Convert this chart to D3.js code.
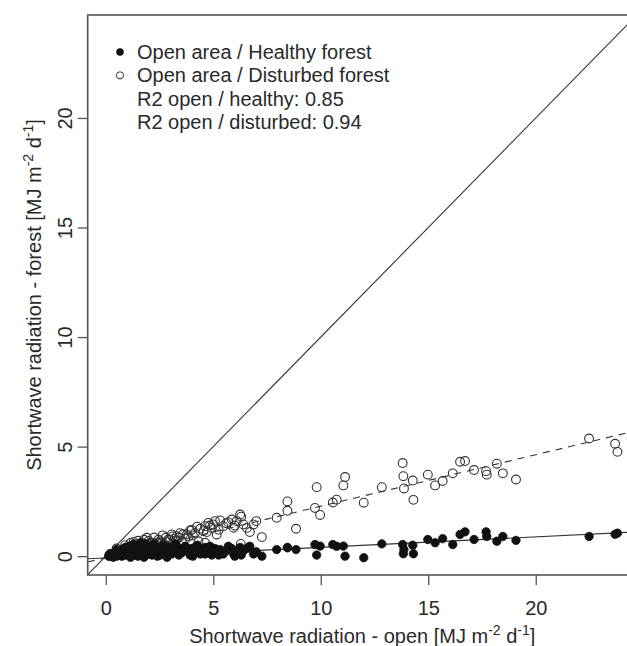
<!DOCTYPE html>
<html>
<head>
<meta charset="utf-8">
<script src="https://cdn.jsdelivr.net/npm/d3@7"></script>
<style>
  html, body { margin: 0; padding: 0; background: #fff; }
  svg { display: block; font-family: "Liberation Sans", Arial, Helvetica, sans-serif; }
</style>
</head>
<body>
<svg id="chart" width="627" height="646"></svg>
<script>
// Daily shortwave radiation [MJ m-2 d-1]: open site vs. two forest stands
const openArea = [
  0.15, 0.25, 0.35, 0.45, 0.51, 0.6, 0.7, 0.8, 0.9, 1.0,
  1.16, 1.25, 1.35, 1.52, 1.6, 1.75, 1.91, 2.06, 2.2, 2.37,
  2.53, 2.7, 2.91, 2.91, 3.07, 3.2, 3.3, 3.53, 3.77, 3.92,
  4.15, 4.31, 4.54, 4.62, 4.62, 4.77, 4.93, 5.08, 5.16, 5.32,
  5.47, 5.86, 6.09, 6.25, 6.3, 6.4, 6.56, 6.28, 6.87, 7.26,
  7.95, 8.45, 8.45, 8.85, 9.73, 9.81, 9.97, 10.56, 10.74, 11.05,
  11.13, 12.0, 12.84, 13.81, 13.84, 13.87, 14.28, 14.31, 14.98, 15.32,
  15.67, 16.14, 16.48, 16.71, 17.13, 17.69, 17.72, 18.19, 18.47, 19.08,
  22.48, 23.69, 23.8,
  0.2, 0.3, 0.4, 0.55, 0.65, 0.75, 0.85, 0.95, 1.05, 1.1,
  1.2, 1.3, 1.4, 1.45, 1.55, 1.65, 1.7, 1.8, 1.85, 1.95,
  2.0, 2.1, 2.15, 2.3, 2.45, 2.6, 2.8, 3.0, 3.1, 3.4,
  3.6, 3.85, 4.0, 4.4, 4.7, 5.0, 5.6, 5.95,
  0.5, 0.9, 1.15, 1.3, 1.5, 1.62, 1.78, 2.25, 2.4, 2.65,
  2.85, 3.25, 3.45, 3.7, 4.05, 4.25, 4.85, 5.25, 5.7, 6.0,
  6.7, 7.0
];
const healthyForest = [
  0.0, 0.05, -0.05, 0.1, 0.0, 0.15, 0.05, 0.2, 0.1, 0.3,
  0.15, 0.4, 0.05, 0.45, 0.2, 0.5, 0.3, 0.1, 0.45, 0.25,
  0.05, 0.35, 0.2, 0.4, 0.1, 0.3, 0.45, 0.15, 0.3, 0.05,
  0.4, 0.2, 0.3, 0.1, 0.4, 0.25, 0.05, 0.35, 0.2, 0.3,
  0.1, 0.35, 0.2, 0.4, 0.05, 0.25, 0.35, 0.15, 0.1, 0.0,
  0.3, 0.38, 0.4, 0.3, 0.53, 0.05, 0.46, 0.53, 0.45, 0.46,
  0.0, -0.07, 0.56, 0.53, 0.11, 0.3, 0.5, 0.11, 0.76, 0.61,
  0.8, 0.53, 0.99, 1.11, 0.76, 1.11, 0.9, 0.68, 0.9, 0.72,
  0.9, 1.0, 1.05,
  0.1, 0.0, 0.15, 0.05, 0.25, 0.0, 0.15, 0.05, 0.2, 0.45,
  0.1, 0.25, 0.5, 0.15, 0.3, 0.1, 0.4, 0.2, 0.55, 0.1,
  0.4, 0.25, 0.05, 0.35, 0.15, 0.3, 0.1, 0.35, 0.2, 0.05,
  0.35, 0.2, 0.35, 0.1, 0.3, 0.15, 0.25, 0.1,
  0.3, 0.4, -0.05, 0.55, 0.0, 0.6, -0.05, 0.55, 0.0, 0.5,
  -0.05, 0.55, 0.25, 0.45, 0.0, 0.5, 0.45, 0.05, 0.45, 0.0,
  0.45, 0.2
];
const disturbedForest = [
  0.02, 0.08, 0.05, 0.12, 0.15, 0.2, 0.12, 0.25, 0.3, 0.22,
  0.23, 0.4, 0.3, 0.3, 0.5, 0.42, 0.84, 0.61, 0.5, 0.38,
  0.68, 0.55, 0.76, 0.46, 0.99, 0.8, 0.91, 0.68, 0.99, 1.17,
  1.06, 0.68, 1.14, 1.37, 0.61, 1.52, 1.29, 1.6, 0.99, 1.63,
  1.37, 1.67, 1.6, 1.9, 1.8, 1.45, 1.29, 0.56, 1.45, 0.87,
  1.75, 2.5, 2.07, 1.25, 2.2, 3.15, 1.88, 2.45, 2.58, 3.23,
  3.61, 2.44, 3.15, 4.25, 3.65, 3.09, 3.45, 2.57, 3.72, 3.23,
  3.43, 3.78, 4.31, 4.34, 3.93, 3.88, 3.72, 4.22, 3.78, 3.5,
  5.37, 5.13, 4.76,
  0.1, 0.05, 0.1, 0.2, 0.15, 0.3, 0.2, 0.35, 0.3, 0.25,
  0.45, 0.35, 0.4, 0.55, 0.45, 0.35, 0.6, 0.5, 0.45, 0.55,
  0.7, 0.45, 0.6, 0.55, 0.75, 0.6, 0.85, 0.75, 0.9, 0.85,
  1.0, 0.9, 1.2, 1.25, 1.1, 1.45, 1.5, 1.3,
  0.35, 0.5, 0.6, 0.65, 0.7, 0.55, 0.75, 0.85, 0.6, 0.95,
  0.65, 0.7, 1.05, 0.8, 0.95, 1.35, 1.4, 1.2, 1.55, 1.4,
  1.1, 1.6
];

// Least-squares fits shown in the panel (intercept, slope)
const fitHealthy = [-0.08, 0.048];
const fitDisturbed = [-0.07, 0.235];

const xTicks = [0, 5, 10, 15, 20];
const yTicks = [0, 5, 10, 15, 20];

const legendRows = [
  { label: "Open area / Healthy forest", symbol: "filled" },
  { label: "Open area / Disturbed forest", symbol: "open" },
  { label: "R2 open / healthy: 0.85", symbol: null },
  { label: "R2 open / disturbed: 0.94", symbol: null }
];

const svg = d3.select("#chart");
const ink = "#2a2a2a";
const frame = "#555";
const fontSize = 20;

const x = d3.scaleLinear().domain([-0.84, 24.7]).range([87.7, 636.8]);
const y = d3.scaleLinear().domain([-0.86, 24.7]).range([575, 15]);

const [x0, x1] = x.range();
const [y0, y1] = y.range();

svg.append("defs").append("clipPath").attr("id", "plotClip")
  .append("rect").attr("x", x0).attr("y", y1).attr("width", x1 - x0).attr("height", y0 - y1);

const plot = svg.append("g").attr("clip-path", "url(#plotClip)");

// 1:1 reference line
const dom = x.domain();
plot.append("line")
  .attr("x1", x(dom[0])).attr("y1", y(dom[0]))
  .attr("x2", x(dom[1])).attr("y2", y(dom[1]))
  .attr("stroke", "#333").attr("stroke-width", 1.1);

// Regression lines
function fitLine(fit, dash) {
  plot.append("line")
    .attr("x1", x(dom[0])).attr("y1", y(fit[0] + fit[1] * dom[0]))
    .attr("x2", x(dom[1])).attr("y2", y(fit[0] + fit[1] * dom[1]))
    .attr("stroke", "#333").attr("stroke-width", 1.1)
    .attr("stroke-dasharray", dash);
}
fitLine(fitHealthy, null);
fitLine(fitDisturbed, "7,6");

const healthyPts = openArea.map((v, i) => [v, healthyForest[i]]);
const disturbedPts = openArea.map((v, i) => [v, disturbedForest[i]]);

plot.append("g").selectAll("circle").data(disturbedPts).join("circle")
  .attr("cx", d => x(d[0])).attr("cy", d => y(d[1])).attr("r", 4.4)
  .attr("fill", "none").attr("stroke", "#333").attr("stroke-width", 1.1);

plot.append("g").selectAll("circle").data(healthyPts).join("circle")
  .attr("cx", d => x(d[0])).attr("cy", d => y(d[1])).attr("r", 4.2)
  .attr("fill", "#111").attr("stroke", "#111").attr("stroke-width", 0.8);

// Plot frame
svg.append("rect")
  .attr("x", x0).attr("y", y1).attr("width", x1 - x0).attr("height", y0 - y1)
  .attr("fill", "none").attr("stroke", frame).attr("stroke-width", 1.6);

// Axes
const xAxis = svg.append("g").attr("transform", `translate(0,${y0})`)
  .call(d3.axisBottom(x).tickValues(xTicks).tickSize(10).tickFormat(d3.format("d")));
xAxis.select(".domain").remove();
xAxis.selectAll(".tick line").attr("stroke", frame).attr("stroke-width", 1.3);
xAxis.selectAll(".tick text")
  .attr("y", 33).attr("dy", "0.35em")
  .attr("font-size", fontSize).attr("fill", ink)
  .attr("font-family", "Liberation Sans, Arial, sans-serif");

const yAxis = svg.append("g").attr("transform", `translate(${x0},0)`)
  .call(d3.axisLeft(y).tickValues(yTicks).tickSize(10).tickFormat(d3.format("d")));
yAxis.select(".domain").remove();
yAxis.selectAll(".tick line").attr("stroke", frame).attr("stroke-width", 1.3);
yAxis.selectAll(".tick text")
  .attr("x", 0).attr("y", 0).attr("dy", "0.35em")
  .attr("text-anchor", "middle")
  .attr("transform", "translate(-23,0) rotate(-90)")
  .attr("font-size", fontSize).attr("fill", ink)
  .attr("font-family", "Liberation Sans, Arial, sans-serif");

// Axis titles with superscript units
function unitTitle(sel, prefix) {
  sel.append("tspan").text(prefix + " [MJ m");
  sel.append("tspan").attr("baseline-shift", "super").attr("font-size", fontSize * 0.7).text("-2");
  sel.append("tspan").text(" d");
  sel.append("tspan").attr("baseline-shift", "super").attr("font-size", fontSize * 0.7).text("-1");
  sel.append("tspan").text("]");
}

const xTitle = svg.append("text")
  .attr("x", (x0 + x1) / 2).attr("y", 643)
  .attr("text-anchor", "middle").attr("font-size", fontSize).attr("fill", ink);
unitTitle(xTitle, "Shortwave radiation - open");

const yTitle = svg.append("text")
  .attr("transform", `translate(41,${(y0 + y1) / 2}) rotate(-90)`)
  .attr("text-anchor", "middle").attr("font-size", fontSize).attr("fill", ink);
unitTitle(yTitle, "Shortwave radiation - forest");

// Legend
const legend = svg.append("g").attr("transform", "translate(120,52)");
const rowGap = 23.4;
legendRows.forEach((row, i) => {
  const g = legend.append("g").attr("transform", `translate(0,${i * rowGap})`);
  if (row.symbol === "filled") {
    g.append("circle").attr("r", 3.8).attr("fill", "#111");
  } else if (row.symbol === "open") {
    g.append("circle").attr("r", 3.6).attr("fill", "none").attr("stroke", "#333").attr("stroke-width", 1);
  }
  g.append("text").attr("x", 17).attr("dy", "0.35em")
    .attr("font-size", fontSize).attr("fill", ink)
    .text(row.label);
});
</script>
</body>
</html>
